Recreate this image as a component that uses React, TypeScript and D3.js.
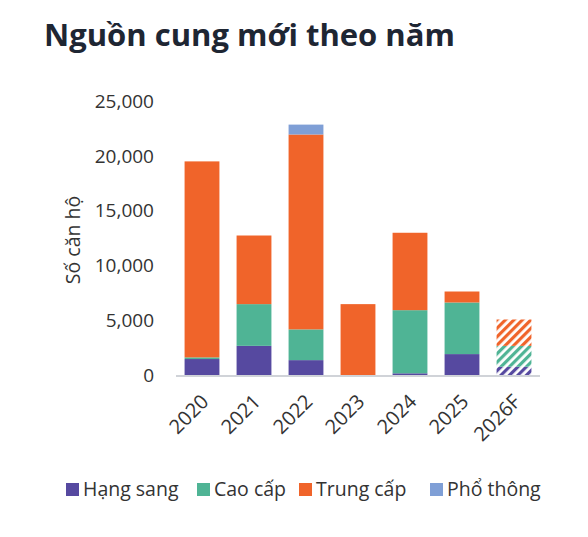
import React from "react";
import * as d3 from "d3";

const categories = ["2020", "2021", "2022", "2023", "2024", "2025", "2026F"];
const seriesNames = ["Hạng sang", "Cao cấp", "Trung cấp", "Phổ thông"];
const hangSang = [1500, 2700, 1400, 0, 200, 1950, 800];
const caoCap = [150, 3800, 2800, 0, 5750, 4700, 1900];
const trungCap = [17850, 6250, 17750, 6500, 7050, 1000, 2400];
const phoThong = [0, 0, 900, 0, 0, 0, 0];
const forecast = [false, false, false, false, false, false, true];
const yTicks = [0, 5000, 10000, 15000, 20000, 25000];
const colors = ["#5649a0", "#4fb495", "#f0642a", "#7f9fd6"];

const W = 588;
const H = 537;
const FONT = "'Open Sans', 'Noto Sans', sans-serif";

export default function App() {
  const x = d3
    .scaleBand<string>()
    .domain(categories)
    .range([176, 540])
    .paddingInner(0.33)
    .paddingOuter(0.165);
  const y = d3.scaleLinear().domain([0, 25000]).range([375.5, 101]);

  const rows = categories.map((c, i) => ({
    cat: c,
    "Hạng sang": hangSang[i],
    "Cao cấp": caoCap[i],
    "Trung cấp": trungCap[i],
    "Phổ thông": phoThong[i],
  }));
  const stacked = d3.stack<any>().keys(seriesNames)(rows);
  const fmt = d3.format(",");

  const legendX = [66, 197, 299, 430];

  return (
    <svg
      width={W}
      height={H}
      style={{ position: "absolute", left: 0, top: 0, background: "#fff" }}
      fontFamily={FONT}
    >
      <defs>
        {colors.map((c, i) => (
          <pattern
            key={i}
            id={`hatch${i}`}
            patternUnits="userSpaceOnUse"
            width={6}
            height={6}
            patternTransform="rotate(45)"
          >
            <rect x={0} y={0} width={6} height={6} fill="#fff" />
            <rect x={0} y={0} width={3.2} height={6} fill={c} />
          </pattern>
        ))}
      </defs>
      <text x={44} y={46} fontSize={31} fontWeight={700} fill="#1e2633">
        Nguồn cung mới theo năm
      </text>

      {yTicks.map((t) => (
        <text
          key={t}
          x={154}
          y={y(t)}
          dy="0.35em"
          textAnchor="end"
          fontSize={19}
          fill="#333"
        >
          {fmt(t)}
        </text>
      ))}
      <text
        transform={`translate(80,240) rotate(-90)`}
        textAnchor="middle"
        fontSize={19.5}
        fill="#333"
      >
        Số căn hộ
      </text>

      {stacked.map((s, si) =>
        s.map((d, i) => {
          const h = y(d[0]) - y(d[1]);
          if (h <= 0) return null;
          return (
            <rect
              key={`${si}-${i}`}
              x={x(categories[i])}
              y={y(d[1])}
              width={x.bandwidth()}
              height={h}
              fill={forecast[i] ? `url(#hatch${si})` : colors[si]}
            />
          );
        })
      )}

      <line x1={176} x2={540} y1={376} y2={376} stroke="#d0d3d8" strokeWidth={2} />

      {categories.map((c) => (
        <text
          key={c}
          transform={`translate(${(x(c) as number) + x.bandwidth() / 2 - 2},393) rotate(-45)`}
          textAnchor="end"
          dy="0.7em"
          fontSize={20}
          fill="#333"
        >
          {c}
        </text>
      ))}

      {seriesNames.map((n, i) => (
        <g key={n}>
          <rect x={legendX[i]} y={483} width={13} height={13} fill={colors[i]} />
          <text x={legendX[i] + 17} y={496} fontSize={19.5} fill="#333">
            {n}
          </text>
        </g>
      ))}
    </svg>
  );
}
